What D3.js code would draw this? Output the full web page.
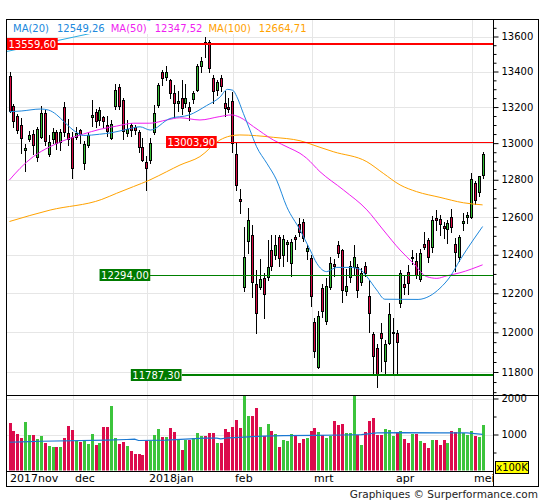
<!DOCTYPE html>
<html lang="fr">
<head>
<meta charset="UTF-8">
<title>DAX - Graphiques Surperformance</title>
<script src="https://cdnjs.cloudflare.com/ajax/libs/d3/7.8.5/d3.min.js"></script>
<style>
  body { margin: 0; background: #fff; }
  svg { display: block; font-family: "DejaVu Sans", Verdana, sans-serif; }
</style>
</head>
<body>
<script>
// daily candles, 9 nov 2017 -> 7 mei 2018 (122 sessions)
const open = [13374,13206,13150,13100,12962,13021,13049,12926,13035,13168,
  12940,13020,13060,13005,13200,13054,13035,13035,13070,12891,
  12990,13143,13175,13128,13145,13100,13030,13207,13315,13241,
  13057,13100,13090,13063,12980,12898,12908,13063,13211,13396,
  13371,13352,13280,13223,13249,13224,13199,13243,13296,13431,
  13570,13570,13365,13296,13362,13225,13200,13234,12938,12695,
  12230,12474,12504,12250,12233,12280,12286,12425,12399,12492,
  12399,12457,12355,12492,12560,12571,12420,12385,12050,11826,
  12228,12057,12233,12350,12451,12425,12213,12286,12334,12334,
  12257,12340,12186,11991,11918,11997,11857,11948,11994,11997,
  12151,12249,12311,12381,12369,12272,12456,12478,12439,12595,
  12590,12552,12534,12598,12456,12389,12566,12602,12602,12780,
  12735,12826];
const high = [13396,13217,13160,13137,12994,13067,13072,13091,13205,13185,
  13045,13085,13070,13080,13230,13135,13060,13090,13080,13010,
  13060,13240,13190,13200,13150,13150,13130,13330,13330,13250,
  13130,13110,13100,13070,13030,12928,13027,13210,13333,13409,
  13430,13360,13324,13290,13352,13330,13230,13290,13440,13480,
  13597,13580,13380,13350,13380,13290,13250,13284,12999,12749,
  12548,12646,12557,12320,12376,12303,12478,12504,12504,12504,
  12504,12478,12482,12504,12597,12590,12450,12400,12071,12106,
  12250,12280,12390,12380,12470,12430,12326,12370,12451,12350,
  12330,12360,12270,12003,11940,12048,11960,12151,12075,12013,
  12320,12293,12345,12424,12407,12432,12520,12487,12605,12637,
  12611,12575,12584,12641,12487,12505,12620,12628,12834,12796,
  12823,12953];
const low = [13172,13090,13054,12945,12845,13010,12940,12900,13030,12990,
  12930,13000,12970,12960,13040,12990,12808,13020,13000,12860,
  12980,13095,13090,13100,13090,13040,13020,13190,13190,13020,
  13040,13040,13050,12950,12900,12745,12890,13050,13200,13324,
  13350,13250,13143,13180,13160,13200,13130,13220,13290,13400,
  13480,13400,13220,13270,13290,13150,13170,12954,12742,12621,
  12210,12411,12182,11998,12220,12071,12270,12320,12380,12340,
  12340,12370,12290,12430,12500,12470,12380,12136,11876,11820,
  12080,12040,12220,12290,12390,12157,12190,12260,12300,12180,
  12240,12290,12003,11794,11727,11804,11785,11940,11794,11792,
  12131,12197,12197,12350,12278,12262,12430,12362,12416,12531,
  12504,12487,12460,12520,12313,12370,12531,12566,12595,12670,
  12714,12807];
const close = [13180,13120,13072,13030,12975,13043,12990,13076,13168,13010,
  13008,13060,13000,13059,13061,13023,12862,13058,13048,12993,
  13045,13153,13123,13183,13125,13068,13103,13298,13207,13069,
  13080,13072,13070,12980,12908,12862,12999,13165,13324,13362,
  13399,13277,13224,13236,13193,13249,13180,13280,13431,13461,
  13559.6,13418,13292,13340,13318,13193,13189,12999,12769,12685,
  12387,12586,12256,12100,12273,12194,12334,12341,12451,12382,
  12482,12469,12465,12483,12520,12487,12437,12188,11906,12085,
  12108,12239,12355,12341,12410,12218,12237,12341,12387,12217,
  12303,12305,12100,11882,11787.3,11971,11939,12091,12000,11953,
  12303,12233,12252,12390,12294,12412,12442,12387,12584,12585,
  12560,12540,12566,12545,12416,12495,12579,12611,12806,12691,
  12820,12940];
// volume in x100K
const volume = [1311,1110,1014,909,1340,995,995,880,967,775,
  679,651,651,651,909,1225,1129,833,794,833,
  737,1014,708,766,1196,1196,1799,909,737,794,
  679,536,450,450,421,833,833,995,1139,938,
  938,1168,1081,852,565,852,852,909,1053,967,
  967,1053,1053,766,766,1139,1081,1196,1397,1168,
  2100,1512,1512,1742,1206,957,1282,1100,1005,651,
  852,823,1024,957,766,880,909,1110,1168,1081,
  976,909,957,1369,1273,1282,1033,1053,2100,976,
  708,1081,1369,1464,995,995,1139,1120,947,1072,
  1110,880,766,1005,1005,813,766,622,852,852,
  718,852,766,1110,1081,1168,1053,995,1110,967,
  938,1254];

// moving averages: [session index, value]
const ma20 = [[0,13174],[3,13178],[8,13189],[10,13183],[12,13158],[14,13117],[17,13061],[19,13042],
  [23,13049],[26,13057],[30,13076],[33.4,13090],[36,13072],[41,13136],[46,13156],[50.4,13208],
  [53.8,13255],[55.7,13299],[57.1,13294],[58.1,13260],[59.8,13165],[61.5,13072],[63.2,12980],
  [65.8,12890],[68.3,12799],[70.9,12655],[74.3,12531],[76.9,12425],[78.6,12355],[81.1,12312],
  [83.7,12334],[87.1,12334],[89.6,12324],[91.4,12286],[93.9,12217],[96,12169],[104.5,12168],
  [107.5,12186],[110.1,12226],[112.7,12286],[115.2,12372],[118.6,12478],[121,12549.26]];
const ma50 = [[0,12799],[2.7,12862],[6.1,12926],[10.4,12981],[14.6,13020],[18.9,13050],[23.1,13076],
  [27.4,13094],[31.7,13110],[35.9,13110],[40.2,13128],[43.6,13140],[48.7,13128],[53.8,13147],
  [56.8,13156],[58.9,13143],[62.4,13091],[67.5,13017],[71.7,12972],[74.3,12944],[76,12917],
  [79.4,12844],[85.4,12745],[91.4,12638],[95.6,12531],[99.9,12425],[103.3,12355],[106.7,12286],
  [109.3,12277],[111.8,12290],[115.2,12306],[121,12347.52]];
const ma100 = [[0,12576],[10.4,12637],[23.6,12694],[27.4,12727],[31.7,12763],[35.9,12799],[40.2,12844],
  [43.6,12880],[48.7,12926],[53.8,13017],[56.4,13039],[58.9,13045],[67.5,13032],[74.3,13013],
  [79.4,12977],[82.8,12953],[91.4,12898],[95.6,12835],[99.9,12772],[104.1,12736],[110.1,12705],
  [116.1,12676],[121,12664.71]];
const volMa = [[0,785],[5,804],[8,813],[25,842],[30,861],[32,871],[33,833],[40,842],[45,871],[50,900],
  [53,900],[54,880],[56,909],[60,928],[65,957],[70,967],[78,976],[85,986],[90,995],[94,1043],
  [100,1053],[110,1043],[117,1043],[121,1005]];
const trend = [[-0.9,13513],[36,13692]];

// horizontal levels and the session where each one starts
const levelValues = [13559.60, 13003.90, 12294.00, 11787.30];
const levelStart = [0, 53, 36, 44];

const monthNames = ["2017nov", "dec", "2018jan", "feb", "mrt", "apr", "mei"];
const monthStart = [0, 16, 35, 57, 77, 98, 118];

const priceTicks = d3.range(11800, 13601, 200);
const priceMinor = d3.range(11700, 13651, 50).filter(v => v % 200 !== 0);
const volTicks = [1000, 2000];
const volMinor = [500, 1500];

const W = 545, H = 500;
const L = 7, R = 493, T = 20, MID = 396, VB = 470.5, B = 486.5, FR = 538.5;
const N = close.length;
const RED = "#d70a43", GREEN = "#34bd34";
const VRED = "#dc0b4c", VGREEN = "#3cc43c";

const svg = d3.select("body").append("svg").attr("width", W).attr("height", H);
svg.append("rect").attr("width", W).attr("height", H).attr("fill", "#fff");

const defs = svg.append("defs");
defs.append("clipPath").attr("id", "clipP").append("rect")
  .attr("x", L).attr("y", T).attr("width", R - L).attr("height", MID - T);
defs.append("clipPath").attr("id", "clipV").append("rect")
  .attr("x", L).attr("y", MID).attr("width", R - L).attr("height", VB - MID);
defs.append("clipPath").attr("id", "clipM").append("rect")
  .attr("x", L).attr("y", VB).attr("width", R - L).attr("height", B - VB);

const x = d3.scaleLinear().domain([0, N - 1]).range([9.5, 482.6]);
const y = d3.scaleLog().domain([11800, 13600]).range([372, 36.5]);
const yv = d3.scaleLinear().domain([0, 2000]).range([VB, 398.5]);
const cx = i => Math.round(x(i));
const px = v => Math.round(v) + 0.5;

// grid
const grid = svg.append("g").attr("stroke", "#e6e6e6").attr("shape-rendering", "crispEdges");
grid.selectAll(".hp").data(priceTicks).join("line")
  .attr("x1", L).attr("x2", R).attr("y1", d => px(y(d))).attr("y2", d => px(y(d)));
grid.selectAll(".hv").data(volTicks).join("line")
  .attr("x1", L).attr("x2", R).attr("y1", d => px(yv(d))).attr("y2", d => px(yv(d)));
grid.selectAll(".vx").data(monthStart.slice(1)).join("line")
  .attr("x1", d => cx(d) + 1.5).attr("x2", d => cx(d) + 1.5).attr("y1", T).attr("y2", VB);

const price = svg.append("g").attr("clip-path", "url(#clipP)");
const line = d3.line().x(d => x(d[0])).y(d => y(d[1]));

price.append("path").attr("d", line(trend))
  .attr("fill", "none").attr("stroke", "#29abe2").attr("stroke-width", 1);

// candles
const idx = d3.range(N);
price.append("g").attr("shape-rendering", "crispEdges")
  .selectAll("line").data(idx).join("line")
  .attr("x1", i => cx(i) + 0.5).attr("x2", i => cx(i) + 0.5)
  .attr("y1", i => Math.round(y(high[i]))).attr("y2", i => Math.round(y(low[i])) + 1)
  .attr("stroke", "#000");
price.append("g").attr("shape-rendering", "crispEdges")
  .selectAll("rect").data(idx).join("rect")
  .attr("x", i => cx(i) - 0.5).attr("width", 2)
  .attr("y", i => Math.round(y(Math.max(open[i], close[i]))) + 0.5)
  .attr("height", i => Math.max(1, Math.round(y(Math.min(open[i], close[i]))) - Math.round(y(Math.max(open[i], close[i])))))
  .attr("fill", i => close[i] >= open[i] ? GREEN : RED)
  .attr("stroke", "#000");

// moving averages
const maLine = d3.line().x(d => x(d[0])).y(d => y(d[1])).curve(d3.curveMonotoneX);
const maSeries = [
  { name: "MA(20)", data: ma20, color: "#2088dc" },
  { name: "MA(50)", data: ma50, color: "#f01ef0" },
  { name: "MA(100)", data: ma100, color: "#ffa200" }
];
price.selectAll(".ma").data(maSeries.slice().reverse()).join("path")
  .attr("d", d => maLine(d.data))
  .attr("fill", "none").attr("stroke", d => d.color).attr("stroke-width", 1);

// levels
const lastClose = close[N - 1];
const hi = d3.max(levelValues), lo = d3.min(levelValues);
const lvl = levelValues.map((v, k) => ({
  v, start: levelStart[k] === 0 ? L : x(levelStart[k]),
  color: v > lastClose ? "#ff0000" : "#008000",
  width: v === hi ? 2 : v === lo ? 2.5 : 1
}));
price.selectAll(".lvl").data(lvl).join("line")
  .attr("x1", d => d.start).attr("x2", R)
  .attr("y1", d => d.width === 1 ? px(y(d.v)) : Math.round(y(d.v)))
  .attr("y2", d => d.width === 1 ? px(y(d.v)) : Math.round(y(d.v)))
  .attr("stroke", d => d.color).attr("stroke-width", d => d.width)
  .attr("shape-rendering", "crispEdges");

const fmt = v => d3.format(".2f")(v).replace(".", ",");
lvl.forEach(d => {
  const g = svg.append("g");
  const t = g.append("text").text(fmt(d.v))
    .attr("font-size", 10).attr("fill", "#fff").attr("y", Math.round(y(d.v)) + 4);
  const w = t.node().getComputedTextLength() + 3;
  let x0 = d.start - w;
  if (x0 < L) x0 = L;
  g.insert("rect", "text").attr("x", x0).attr("y", Math.round(y(d.v)) - 6)
    .attr("width", w).attr("height", 12).attr("fill", d.color === "#008000" ? "#007a00" : "#ff0000");
  t.attr("x", x0 + 1.5);
});

// legend
const leg = svg.append("g");
const legBg = leg.append("rect").attr("fill", "#fff").attr("y", T + 1).attr("height", 13).attr("x", L + 1);
let lx = 13;
maSeries.forEach(s => {
  const a = leg.append("text").text(s.name).attr("x", lx).attr("y", 31.5)
    .attr("font-size", 10).attr("fill", s.color);
  lx += a.node().getComputedTextLength() + 8;
  const b = leg.append("text").text(fmt(s.data[s.data.length - 1][1])).attr("x", lx).attr("y", 31.5)
    .attr("font-size", 10).attr("fill", s.color);
  lx += b.node().getComputedTextLength() + 6;
});
legBg.attr("width", lx - L - 4);

// volume
const vol = svg.append("g").attr("clip-path", "url(#clipV)");
vol.append("g").attr("shape-rendering", "crispEdges")
  .selectAll("rect").data(idx).join("rect")
  .attr("x", i => cx(i) - 1).attr("width", 3)
  .attr("y", i => yv(volume[i])).attr("height", i => VB - yv(volume[i]))
  .attr("fill", i => close[i] >= open[i] ? VGREEN : VRED);
vol.append("path")
  .attr("d", d3.line().x(d => x(d[0])).y(d => yv(d[1]))(volMa))
  .attr("fill", "none").attr("stroke", "#1a78d2").attr("stroke-width", 1.2);

// frames
const fr = svg.append("g").attr("stroke", "#000").attr("fill", "none").attr("shape-rendering", "crispEdges");
fr.append("rect").attr("x", 6.5).attr("y", 19.5).attr("width", FR - 6.5).attr("height", B - 19.5);
fr.append("line").attr("x1", R + 0.5).attr("x2", R + 0.5).attr("y1", T).attr("y2", B);
fr.append("line").attr("x1", L).attr("x2", FR).attr("y1", MID - 0.5).attr("y2", MID - 0.5);
fr.append("line").attr("x1", L).attr("x2", R).attr("y1", VB + 0.5).attr("y2", VB + 0.5);

// axes
function styleAxis(g) {
  g.select(".domain").remove();
  g.attr("font-family", "DejaVu Sans, Verdana, sans-serif").attr("font-size", 10);
  g.selectAll("text").attr("fill", "#000");
  g.selectAll("line").attr("stroke", "#000");
}
svg.append("g").attr("transform", `translate(${R + 0.5},0)`)
  .call(d3.axisRight(y).tickValues(priceTicks).tickFormat(d3.format("d")).tickSize(5).tickPadding(3))
  .call(styleAxis);
svg.append("g").attr("transform", `translate(${R + 0.5},0)`)
  .call(d3.axisRight(y).tickValues(priceMinor).tickFormat("").tickSize(3))
  .call(styleAxis);
svg.append("g").attr("transform", `translate(${R + 0.5},0)`)
  .call(d3.axisRight(yv).tickValues(volTicks).tickFormat(d3.format("d")).tickSize(5).tickPadding(3))
  .call(styleAxis);
svg.append("g").attr("transform", `translate(${R + 0.5},0)`)
  .call(d3.axisRight(yv).tickValues(volMinor).tickFormat("").tickSize(3))
  .call(styleAxis);

// month labels
svg.append("g").attr("clip-path", "url(#clipM)")
  .selectAll("text").data(monthStart).join("text")
  .attr("x", (d, k) => k === 0 ? L + 3 : cx(d) + 3)
  .attr("y", 482).attr("font-size", 11).attr("fill", "#000")
  .text((d, k) => monthNames[k]);

// unit box and credit
svg.append("rect").attr("x", R + 2.5).attr("y", 461.5).attr("width", 33).attr("height", 12)
  .attr("fill", "#ffff00").attr("stroke", "#000").attr("shape-rendering", "crispEdges");
svg.append("text").attr("x", R + 19).attr("y", 471).attr("text-anchor", "middle")
  .attr("font-size", 10).text("x100K");
svg.append("text").attr("x", 538).attr("y", 498).attr("text-anchor", "end")
  .attr("font-size", 10.5).attr("fill", "#222").text("Graphiques © Surperformance.com");
</script>
</body>
</html>
